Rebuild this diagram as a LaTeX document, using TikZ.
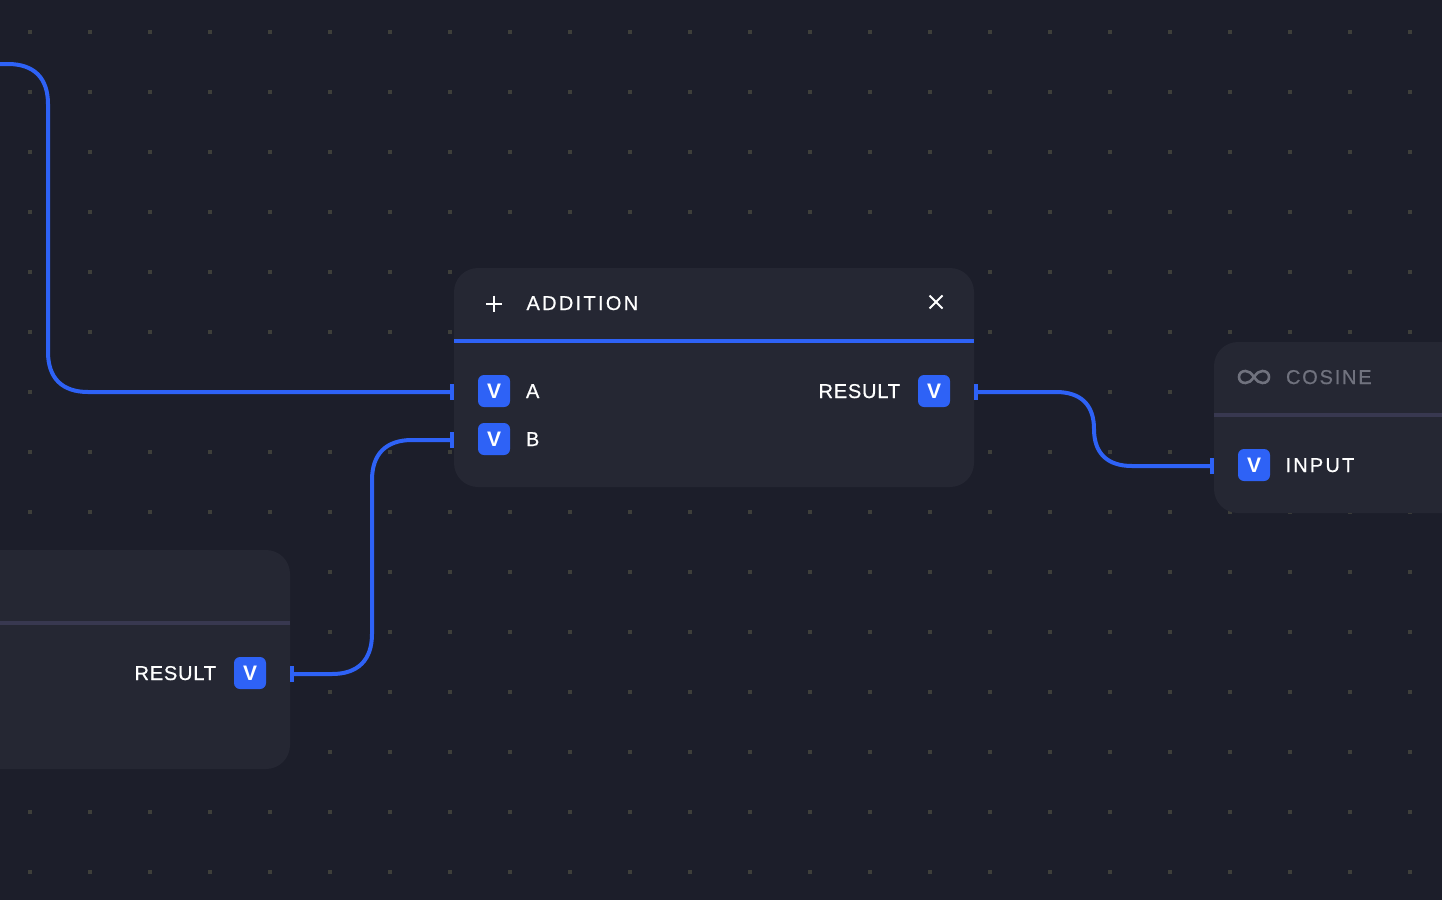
\documentclass[tikz,border=0pt]{standalone}
\usepackage{fontspec}
\setmainfont{Liberation Sans}
\definecolor{bgc}{HTML}{1C1E2A}
\definecolor{cardc}{HTML}{252733}
\definecolor{bluec}{HTML}{2E62F6}
\definecolor{sepc}{HTML}{383850}
\definecolor{dotc}{HTML}{3E3F3A}
\definecolor{mutedc}{HTML}{70727E}
\newcommand{\trk}[2]{{\addfontfeatures{LetterSpace=#1,FakeBold=0.6}#2}}
\tikzset{
  x=1pt,y=-1pt,
  card/.style={fill=cardc,rounded corners=24pt,inner sep=0pt,outer sep=0pt},
  badge/.style={fill=bluec,rounded corners=6pt,minimum width=32pt,minimum height=32pt,inner sep=0pt,outer sep=0pt,text=white,font=\fontsize{21pt}{24pt}\selectfont\bfseries},
  label/.style={text=white,inner sep=0pt,outer sep=0pt,font=\fontsize{20pt}{24pt}\selectfont},
  muted/.style={label,text=mutedc},
  capbar/.style={fill=bluec,minimum width=4pt,minimum height=16pt,inner sep=0pt,outer sep=0pt},
  wire/.style={draw=bluec,line width=4pt},
  icon/.style={draw=white,line width=2pt},
}
\begin{document}
\begin{tikzpicture}
\useasboundingbox (0,0) rectangle (1442,900);
\fill[bgc] (0,0) rectangle (1442,900);
\clip (0,0) rectangle (1442,900);
% dot grid
\foreach \i in {0,...,23}{\foreach \j in {0,...,14}{
  \fill[dotc] ({28+60*\i},{30+60*\j}) rectangle ++(4,4);
}}
% cards
\node[card,minimum width=520pt,minimum height=219pt] (add) at (714,377.5) {};
\node[card,minimum width=590pt,minimum height=219pt] (left) at (-5,659.5) {};
\node[card,minimum width=486pt,minimum height=171pt] (cos) at (1457,427.5) {};
\fill[bluec] (454,339) rectangle (974,343);
\fill[sepc] (-10,621) rectangle (290,625);
\fill[sepc] (1214,413) rectangle (1442,417);
% header of ADDITION
\draw[icon] (486,303.5) -- (502,303.5) (494,295.5) -- (494,311.5);
\draw[icon] (929.5,295.5) -- (942.5,308.5) (942.5,295.5) -- (929.5,308.5);
\node[label,anchor=base west] (addt) at (526.5,310) {\trk{11.5}{ADDITION}};
% header of COSINE
\draw[draw=mutedc,line width=2.6pt] (1254,377) .. controls (1251,373) and (1249,371) .. (1245.5,371)
  .. controls (1241.5,371) and (1239,373.5) .. (1239,377) .. controls (1239,380.5) and (1241.5,383) .. (1245.5,383)
  .. controls (1249,383) and (1251,381) .. (1254,377) .. controls (1257,373) and (1259,371) .. (1262.5,371)
  .. controls (1266.5,371) and (1269,373.5) .. (1269,377) .. controls (1269,380.5) and (1266.5,383) .. (1262.5,383)
  .. controls (1259,383) and (1257,381) .. (1254,377) -- cycle;
\node[muted,anchor=base west] (cost) at (1286,384) {\trk{9}{COSINE}};
% ports
\node[badge] (pa) at (494,391) {V};
\node[badge] (pb) at (494,439) {V};
\node[badge] (pr) at (934,391) {V};
\node[badge] (pi) at (1254,465) {V};
\node[badge] (pl) at (250,673) {V};
\node[label,anchor=base west] (la) at (526,398) {\trk{0}{A}};
\node[label,anchor=base west] (lb) at (526,446) {\trk{0}{B}};
\node[label,anchor=base east] (lr) at (900,398) {\trk{4}{RESULT}};
\node[label,anchor=base west] (li) at (1285.5,472) {\trk{11}{INPUT}};
\node[label,anchor=base east] (ll) at (216,680) {\trk{4}{RESULT}};
% connector end bars
\node[capbar] (ca) at (452,392) {};
\node[capbar] (cb) at (452,440) {};
\node[capbar] (cr) at (976,392) {};
\node[capbar] (ci) at (1212,466) {};
\node[capbar] (cl) at (292,674) {};
\coordinate (free) at (-10,64);
% connectors
\draw[wire] (free) -- (8,64) .. controls (34,64) and (48,78) .. (48,104) -- (48,352)
  .. controls (48,378) and (62,392) .. (88,392) -- (ca.center);
\draw[wire] (cl.center) -- (332,674) .. controls (358,674) and (372,660) .. (372,634) -- (372,480)
  .. controls (372,454) and (386,440) .. (412,440) -- (cb.center);
\draw[wire] (cr.center) -- (1056,392) .. controls (1081,392) and (1094,405) .. (1094,429)
  .. controls (1094,453) and (1107,466) .. (1132,466) -- (ci.center);
\end{tikzpicture}
\end{document}
